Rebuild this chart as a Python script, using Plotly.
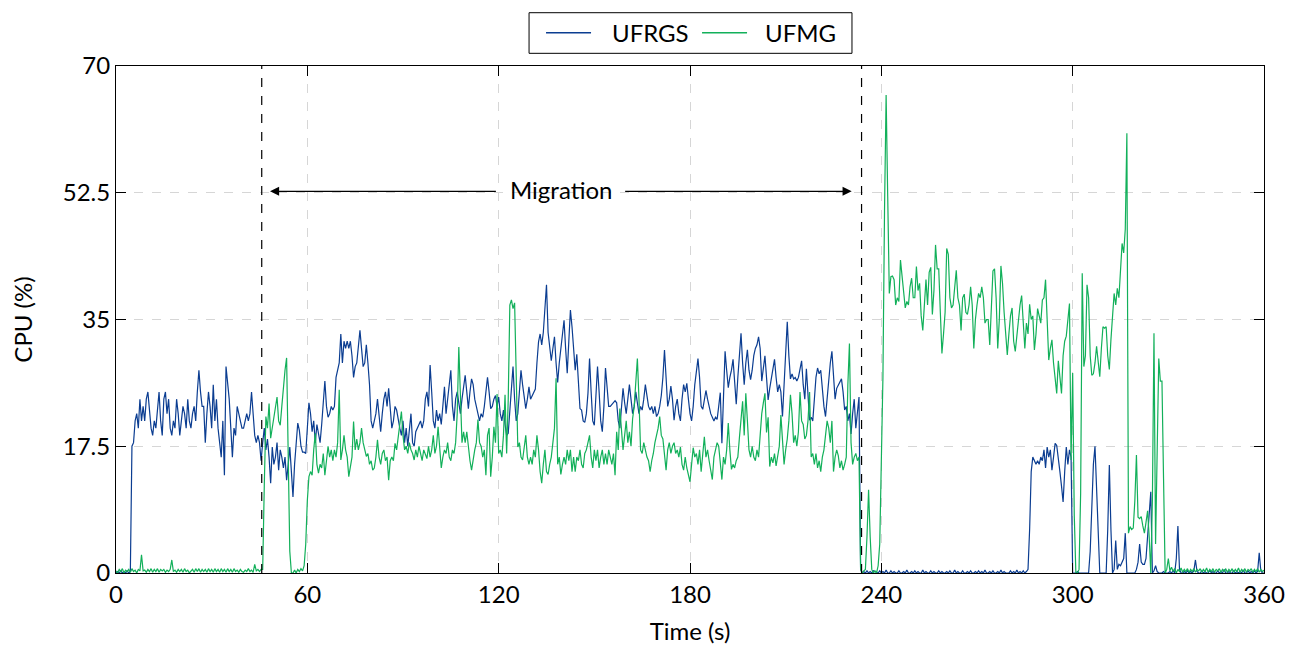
import numpy as np
import plotly.graph_objects as go

# sample interval of the traces (s)
step = 0.5

ufrgs = [
    0, 0.2, 0, 0.3, 0, 0.2, 0, 0.3, 0, 0.2, 17.5, 18, 21, 22, 20, 24, 21, 23, 21, 24,
    25, 22, 20, 19, 21, 20, 23, 25, 21, 19, 24, 25, 22, 24, 20, 19, 21, 20, 24, 22,
    19, 21, 23, 22, 20, 24, 21, 20, 22, 23, 21, 25, 28, 25, 23, 23, 18, 22, 25, 23,
    20, 26, 21, 24, 20, 18, 16, 21, 13.5, 28.5, 26, 24, 20, 16, 20, 19, 23, 22, 21, 20,
    20, 21, 22, 21, 22, 25, 22, 19, 18, 19, 18, 15.5, 18, 20, 17, 18.5, 16, 12.4, 17.4, 15,
    16, 18, 14.2, 17, 16, 14.5, 16, 12.8, 15, 17.4, 14, 10.5, 15, 18, 20.7, 19.7, 17.5, 16.7, 16.7, 16.5,
    21, 23.5, 22, 19.5, 21, 18, 20.5, 19, 18, 20.5, 24, 26.5, 23, 21.5, 22, 23, 22.5, 23, 27, 28,
    29, 33, 29, 32, 31, 32, 31, 32, 30, 27, 28.5, 29, 31, 33.5, 31, 28.5, 29, 31.5, 29, 26,
    21, 20, 21, 22, 24, 22, 19.5, 22, 24, 25, 23, 25.5, 22, 20, 21, 23, 22.5, 21, 20, 19,
    21, 18, 20, 17.5, 20, 22, 18, 17.5, 19.5, 20, 20.5, 21, 20, 21, 24, 25, 23, 28.7, 25, 21,
    20, 22.5, 21, 22, 20.5, 23, 25.7, 22, 24, 26, 28, 23, 21, 24, 25, 23.5, 22, 24, 26, 27.3,
    25, 22.7, 25, 26.8, 26, 24, 23, 22, 21, 22, 21.5, 23, 25, 27, 25, 22.7, 23, 24, 24.5, 23,
    24.3, 22, 21, 22.5, 20.5, 19, 19.3, 22, 25, 28.5, 24, 21, 22, 25, 28, 26, 24, 22.7, 24, 25.7,
    24, 24.5, 25, 25.4, 29, 31.9, 33, 31.5, 33.2, 36, 39.8, 33.2, 31, 29.3, 31, 32.6, 29, 26.3, 29, 31,
    33, 34.9, 31, 27.6, 32, 36.3, 34, 30.5, 28, 30.2, 27, 22.7, 22.5, 21, 20.8, 22, 24.8, 29.6, 25, 21,
    20.4, 24, 28.5, 25, 21, 19.5, 23, 28.3, 26, 23, 23, 23.3, 23.5, 23.8, 23.5, 21, 20, 23, 25.5, 23.5,
    22, 24, 26, 24, 22, 23, 25, 23.5, 22, 23, 22.5, 24, 26, 24.5, 23, 22.5, 23, 22, 23, 21.6,
    22, 23, 24.5, 27, 30.8, 27, 23, 24, 25.8, 24, 21.1, 23, 24, 22, 21, 24, 26, 25, 26.2, 24,
    22, 21, 23, 26, 28, 29.6, 27, 23, 22.6, 24, 25.2, 24, 23, 22, 21.5, 21, 21.5, 21.2, 23, 24.9,
    17.9, 26, 30.6, 28, 25.6, 27, 28, 29.5, 26, 23.3, 27, 31, 33.1, 29, 26, 29, 30.8, 28, 26.7, 28,
    30, 31, 31.5, 32.6, 31, 26.5, 28, 30, 27, 23.9, 25.5, 27, 28, 29.5, 27, 25, 26, 25, 21.6, 26,
    30, 34.7, 30, 26.8, 27.5, 26.8, 27, 26.5, 27, 28, 29.3, 26, 24, 28.2, 24, 21.1, 21.5, 21, 24, 27,
    28.3, 27.5, 28, 25, 23, 21.6, 24, 27, 29, 30.6, 27, 24, 25.5, 26, 26.5, 26.8, 25, 22.5, 23, 21,
    22, 19.2, 22, 24, 20, 22, 24.3, 0.5, 0, 0.2, 0, 0.3, 0, 0.2, 0, 0.3, 0.2, 0, 0, 0.3,
    0, 0.2, 0, 0.4, 0, 0, 0.3, 0, 0.2, 0, 0, 0.3, 0, 0, 0.2, 0, 0.4, 0, 0, 0.2,
    0, 0.3, 0, 0.2, 0, 0, 0.4, 0, 0.2, 0, 0, 0.3, 0, 0.2, 0, 0, 0.3, 0, 0.2, 0,
    0, 0.2, 0, 0.3, 0, 0, 0.4, 0, 0.2, 0, 0, 0.3, 0, 0, 0.2, 0, 0.3, 0, 0, 0.2,
    0, 0.3, 0, 0.2, 0, 0.4, 0, 0, 0.2, 0, 0.3, 0, 0, 0.2, 0, 0.4, 0, 0.2, 0, 0,
    0, 0.3, 0, 0.2, 0, 0.4, 0, 0.2, 0, 0.3, 0, 0.2, 0.5, 6, 14, 16, 15.5, 15, 15.5, 15,
    16, 15.5, 17, 14.5, 17.4, 16, 17, 14.2, 16, 17.9, 17.6, 16, 14, 12, 9.8, 14, 17.4, 15, 17, 16,
    0, 0, 0, 0.2, 0, 0, 0, 0, 0, 0, 0, 3, 10, 15, 17.5, 12, 5, 0, 0, 0,
    0, 0, 6, 14.9, 6, 0, 0.5, 4.5, 0.5, 1.2, 1, 1.5, 2, 5.5, 0, 0, 0, 0, 0, 0,
    0.5, 1.5, 4, 1.5, 1.2, 1.2, 2, 5, 9, 11.2, 0, 0.3, 1, 0.2, 0, 0, 0, 0.2, 0, 0,
    0, 0.2, 0, 0.3, 0, 2, 6.5, 0.5, 0, 0, 0.2, 0, 0.3, 0, 0.2, 0, 0.3, 1.8, 0.2, 0,
    0, 0.3, 0, 0.2, 0, 0, 0.4, 0, 0.2, 0, 0, 0.3, 0, 0.2, 0, 0.5, 0, 0, 0.2, 0,
    0, 0.3, 0, 0.2, 0, 0.2, 0, 0.4, 0, 0, 0.3, 0, 0.2, 0, 0.3, 0, 0.2, 2.8, 0.3, 0,
    0,
]

ufmg = [
    0.3, 0, 0.5, 0.2, 0.6, 0, 0.4, 0.2, 0.5, 0.1, 0.6, 0.2, 0.4, 0, 0.5, 0.3, 2.5, 0.3, 0.4, 0.1,
    0.5, 0.2, 0.6, 0.1, 0.5, 0.2, 0.6, 0.1, 0.5, 0.3, 0.5, 0.1, 0.4, 0.2, 0.5, 1.8, 0.2, 0.4, 0.1, 0.5,
    0.2, 0.5, 0.1, 0.6, 0.2, 0.4, 0, 0.3, 0.5, 0.1, 0.6, 0.2, 0.6, 0.1, 0.5, 0.2, 0.5, 0.1, 0.6, 0.2,
    0.5, 0.1, 0.6, 0.2, 0.5, 0.1, 0.6, 0.2, 0.5, 0.1, 0.6, 0.2, 0.5, 0.1, 0.6, 0.2, 0.4, 0.1, 0.5, 0.2,
    0.1, 0.4, 0.2, 0.6, 0.2, 0.4, 0.1, 1.2, 0.3, 0.5, 0.2, 0.5, 0.5, 12, 21.6, 20, 23.4, 18.6, 20, 21.6,
    23, 24.3, 21, 20.4, 23, 26, 28, 29.7, 18, 3, 0, 0, 0.4, 0, 0.5, 0.2, 0.6, 0.3, 1, 4,
    10, 13.3, 14, 13.5, 17, 19.3, 15, 13.8, 15, 14.5, 16.5, 13.5, 15.5, 17.5, 16, 17, 15.5, 17, 16, 18,
    25.3, 15.6, 17, 19, 17, 16, 13.3, 14.5, 16, 20.9, 17, 18.5, 17, 18, 20, 18, 17, 16.1, 16.5, 15,
    15.5, 14.2, 14.5, 16, 18.4, 16, 15, 16.5, 17, 15.5, 16, 12.8, 15.5, 16, 15.5, 17.9, 17, 19, 20.5, 22.3,
    19, 17, 17.5, 16.5, 18, 17, 16.5, 15.6, 17, 16, 17.5, 16.5, 15.5, 17, 16.5, 15.8, 17.5, 16, 17, 19,
    16.5, 17.5, 20.2, 17, 14.5, 16, 17, 16.5, 18, 16, 15.5, 17, 16.5, 18, 22, 31.2, 24, 18, 19.5, 18,
    19.5, 17, 15.5, 14.2, 16, 17, 18, 21.2, 18, 17.5, 16, 17, 13.5, 19, 20, 13.3, 16, 20.2, 18, 24.7,
    16.5, 17, 16, 19, 24.6, 16.5, 24, 37, 37.7, 36.5, 37.3, 25, 17.4, 18, 16, 15.6, 17, 19, 16, 15,
    16, 15, 17, 16, 19, 17, 14, 12.4, 15, 17, 14, 13.6, 15, 16, 18, 20, 26.9, 15, 16, 13.6,
    15, 16, 15, 17, 15.5, 17, 14, 16, 14, 16, 15.5, 17, 15, 14.5, 16.5, 17, 18, 19, 16, 14.5,
    17, 15.5, 17, 14.5, 16, 17, 15, 16.5, 15, 17, 16, 15, 16.5, 13.5, 19.5, 17, 22.7, 19, 17, 19,
    21, 18, 19.5, 17.5, 21.3, 23, 27, 29.6, 24, 17, 16.5, 18, 17, 16, 15.5, 14, 15.5, 16.5, 18, 19,
    20, 21.6, 19, 18.5, 16, 14.2, 17, 18, 16.5, 17.5, 18, 16.5, 17, 16, 17.4, 15, 14.2, 16, 14.5, 13.5,
    12.6, 15, 17.3, 16, 16.5, 15, 17, 14, 16, 18.8, 16, 17, 15.5, 14, 12.9, 16, 17, 18, 17.5, 15,
    12.9, 16, 15, 17, 20.7, 17, 14.3, 15, 14.5, 15.5, 16, 18.7, 21, 23.7, 19, 24.8, 21, 17, 16, 17.5,
    16, 15.5, 17, 16, 19, 22, 23.5, 24.8, 19.4, 21.5, 14.7, 16, 15.2, 16.5, 14.8, 16, 17.5, 21.8, 18, 15,
    17, 18.5, 21, 24.6, 22, 18, 19, 17.5, 19.5, 25, 21, 20.5, 18.5, 19, 21, 25, 16, 16.5, 15, 16.5,
    14.5, 15.5, 14, 16, 17, 19.5, 21, 20, 18, 21, 14, 16, 17, 16.2, 14.5, 15.5, 14.2, 15, 16, 26,
    31.7, 18, 15, 16, 16.5, 15.5, 16, 0.5, 0, 0.3, 0.5, 5, 11.5, 5, 0.5, 0, 0.3, 0, 1, 4,
    14, 27, 50, 66, 52, 38.6, 40.9, 41, 40.5, 37, 38, 37.5, 43.2, 41, 39, 36.6, 37.5, 37, 39.5, 40.7,
    38, 38, 42.3, 39, 40, 35.5, 33.5, 38, 40.5, 37, 41.5, 42.2, 35.7, 39, 45.3, 42, 42, 36, 30.3, 33,
    36, 44.8, 44, 38, 36.6, 37, 40, 41.8, 38, 37, 33.5, 38, 38.5, 36, 35.7, 37, 39.5, 37, 31, 35,
    37, 38.6, 38, 39.5, 38, 34.5, 35, 35, 31.5, 36, 41.7, 42, 38, 31, 35, 42.4, 40, 36, 33, 30.1,
    33, 35.5, 36.6, 32, 30.6, 33, 35.5, 37, 38.3, 34, 31, 34.5, 33, 37.1, 35, 35.5, 30.8, 33, 36.5, 35.5,
    34.5, 37.7, 38, 40.5, 34, 29.4, 31, 32.2, 29, 27, 24.8, 29.3, 27, 24.8, 30, 32, 32.7, 35, 37.2, 15.6,
    27.6, 8, 0, 0, 0.5, 11, 41.4, 28.5, 30, 39.8, 38, 30, 27.3, 27.5, 29, 31.3, 29, 27.1, 31, 34,
    33.8, 34, 30, 28.1, 32.2, 36, 38.6, 37, 39.3, 38, 42, 45.5, 44.2, 47.5, 60.7, 5.5, 6.4, 6, 6.2, 10,
    16.3, 7.7, 7.5, 7.8, 6.5, 5.5, 7, 8.6, 5, 0, 10, 33.1, 4, 18, 29.6, 26.5, 26.5, 13, 0, 0.5,
    2, 0.3, 0.8, 0.2, 0.6, 0, 0.5, 0.2, 0.7, 0.1, 0.5, 0.2, 0.6, 0.1, 0.5, 0.2, 0.6, 0.1, 0.5, 0.3,
    0.6, 0.1, 0.5, 0.2, 0.7, 0.1, 0.5, 0.2, 0.6, 0.1, 0.5, 0.3, 0.6, 0.1, 0.5, 0.2, 0.6, 0.1, 0.5, 0.2,
    0.6, 0.1, 0.5, 0.2, 0.7, 0.1, 0.5, 0.2, 0.6, 0.1, 0.5, 0.3, 0.6, 0.1, 0.5, 0.2, 0.6, 0.1, 0.5, 0.2,
    0.4,
]

series_names = ["UFRGS", "UFMG"]
x_ticks = [0, 60, 120, 180, 240, 300, 360]
y_ticks = [0, 17.5, 35, 52.5, 70]
y_tick_text = ["0", "17.5", "35", "52.5", "70"]
migration_start = 45.7
migration_end = 233.8
migration_label = "Migration"

time_blue = np.arange(len(ufrgs)) * step
time_green = np.arange(len(ufmg)) * step

BLUE = "#0b3d91"
GREEN = "#12b05a"
FONT = "Lato"
FS = 24

fig = go.Figure()
fig.add_trace(go.Scatter(x=time_blue, y=ufrgs, mode="lines", name=series_names[0],
                         line=dict(color=BLUE, width=1.2), showlegend=False))
fig.add_trace(go.Scatter(x=time_green, y=ufmg, mode="lines", name=series_names[1],
                         line=dict(color=GREEN, width=1.2), showlegend=False))

for xv in (migration_start, migration_end):
    fig.add_shape(type="line", xref="x", yref="y", x0=xv, x1=xv, y0=0, y1=70,
                  line=dict(color="black", width=1.2, dash="dash"), layer="above")

# arrows
fig.add_annotation(x=48.3, y=52.7, ax=119.6, ay=52.7, xref="x", yref="y",
                   axref="x", ayref="y", text="", showarrow=True,
                   arrowhead=2, arrowsize=1.4, arrowwidth=1.3, arrowcolor="black",
                   standoff=0, startstandoff=0)
fig.add_annotation(x=230.7, y=52.7, ax=159.2, ay=52.7, xref="x", yref="y",
                   axref="x", ayref="y", text="", showarrow=True,
                   arrowhead=2, arrowsize=1.4, arrowwidth=1.3, arrowcolor="black",
                   standoff=0, startstandoff=0)
fig.add_annotation(x=139.4, y=52.7, xref="x", yref="y", text=migration_label,
                   showarrow=False, yshift=2,
                   font=dict(family=FONT, size=FS, color="black"))

# legend box drawn in paper coordinates (longer line samples than plotly's legend)
fig.add_shape(type="rect", xref="paper", yref="paper", x0=0.3598, x1=0.6411,
              y0=1.0250, y1=1.1051, line=dict(color="black", width=1),
              fillcolor="white")
leg_y = 1.0657
for (x0, x1, xt), col, name in zip([(0.3746, 0.4138, 0.4303), (0.5105, 0.5497, 0.5636)],
                                   [BLUE, GREEN], series_names):
    fig.add_shape(type="line", xref="paper", yref="paper", x0=x0, x1=x1,
                  y0=leg_y, y1=leg_y, line=dict(color=col, width=1.5))
    fig.add_annotation(x=xt, y=leg_y, xref="paper", yref="paper", text=name,
                       showarrow=False, xanchor="left", yanchor="middle",
                       font=dict(family=FONT, size=FS, color="black"))

axis_common = dict(showline=True, linecolor="black", linewidth=1, mirror="ticks",
                   ticks="inside", ticklen=10, tickcolor="black", tickwidth=1,
                   showgrid=True, gridcolor="#d6d6d6", griddash="dash", gridwidth=1,
                   zeroline=False, automargin=False,
                   tickfont=dict(family=FONT, size=FS, color="black"))

fig.update_xaxes(range=[0, 360], tickvals=x_ticks,
                 title=dict(text="Time (s)", font=dict(family=FONT, size=FS, color="black"),
                            standoff=16),
                 **axis_common)
fig.update_yaxes(range=[0, 70], tickvals=y_ticks, ticktext=y_tick_text,
                 title=dict(text="CPU (%)", font=dict(family=FONT, size=FS, color="black"),
                            standoff=23),
                 **axis_common)

fig.update_layout(
    width=1297, height=646,
    margin=dict(l=116, r=33, t=66, b=73),
    paper_bgcolor="white", plot_bgcolor="white",
    font=dict(family=FONT, size=FS, color="black"),
    showlegend=False,
)

fig.write_html("out.html")
